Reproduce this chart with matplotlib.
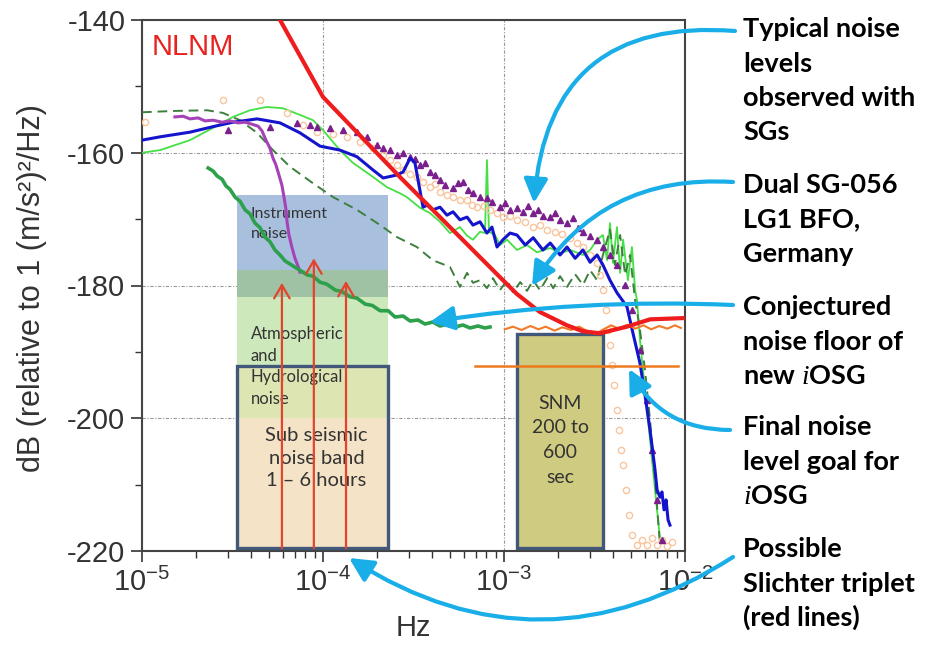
import matplotlib
matplotlib.use("Agg")
import matplotlib.pyplot as plt
from matplotlib.patches import Rectangle

# ---- values: frequency in Hz, level in dB ----
nlnm_f = [4.78e-5, 5.79e-5, 1.0e-4, 2.66e-4, 9.87e-4, 1.18e-3, 1.58e-3, 2.23e-3,
          2.73e-3, 3.39e-3, 4.78e-3, 6.41e-3, 1.0e-2]
nlnm_db = [-135.9, -140.0, -151.6, -163.65, -179.2, -181.3, -184.0, -186.0,
           -186.9, -187.2, -186.2, -185.1, -184.9]

blue_f = [1.0e-5, 1.26e-5, 1.84e-5, 2.53e-5, 3.18e-5, 4.32e-5, 5.79e-5, 7.46e-5,
          9.62e-5, 1.24e-4, 1.54e-4, 1.89e-4, 2.15e-4, 2.56e-4, 2.77e-4, 3.03e-4,
          3.22e-4, 3.35e-4, 3.57e-4, 3.76e-4, 4.05e-4, 4.43e-4, 4.84e-4, 5.23e-4,
          5.71e-4, 6.25e-4, 6.74e-4, 7.37e-4, 8.05e-4, 8.58e-4, 9.15e-4, 9.87e-4,
          1.08e-3, 1.18e-3, 1.31e-3, 1.45e-3, 1.64e-3, 1.80e-3, 2.04e-3, 2.23e-3,
          2.47e-3, 2.73e-3, 2.99e-3, 3.27e-3, 3.52e-3, 3.85e-3, 4.21e-3, 4.78e-3,
          5.16e-3, 5.64e-3, 6.01e-3, 6.41e-3, 6.83e-3, 7.01e-3, 7.28e-3, 7.46e-3,
          7.66e-3, 7.86e-3, 8.06e-3, 8.26e-3]
blue_db = [-158.1, -157.6, -156.9, -156.0, -155.4, -154.9, -155.5, -157.0,
           -159.0, -159.6, -160.6, -162.6, -163.8, -163.35, -162.9, -160.8,
           -161.5, -164.1, -168.2, -167.9, -168.6, -168.2, -169.4, -168.9,
           -170.1, -169.7, -170.9, -170.4, -172.1, -171.2, -174.2, -173.1,
           -172.1, -172.4, -173.9, -172.8, -174.65, -173.6, -175.4, -174.2,
           -175.9, -174.65, -176.5, -175.4, -176.9, -179.2, -181.1, -183.2,
           -187.2, -191.7, -196.5, -201.8, -207.8, -210.8, -211.9, -211.1,
           -213.8, -212.3, -215.3, -216.1]

lgreen_f = [1.0e-5, 1.26e-5, 1.84e-5, 2.53e-5, 3.18e-5, 3.95e-5, 4.90e-5, 6.01e-5,
            7.46e-5, 8.81e-5, 1.0e-4, 1.24e-4, 1.46e-4, 1.89e-4, 2.26e-4, 2.66e-4,
            2.91e-4, 3.44e-4, 3.90e-4, 4.43e-4, 5.03e-4, 5.71e-4, 6.25e-4, 6.74e-4,
            7.37e-4, 7.85e-4, 8.05e-4, 8.26e-4, 8.92e-4, 9.50e-4, 1.04e-3, 1.18e-3,
            1.34e-3, 1.52e-3, 1.80e-3, 2.04e-3, 2.32e-3, 2.73e-3, 2.99e-3, 3.27e-3,
            3.52e-3, 3.71e-3, 3.85e-3, 4.00e-3, 4.21e-3, 4.38e-3, 4.55e-3, 4.84e-3,
            5.09e-3, 5.30e-3, 5.43e-3, 5.64e-3, 6.01e-3, 6.41e-3, 6.83e-3, 7.28e-3]
lgreen_db = [-160.0, -159.6, -158.1, -156.1, -154.6, -153.6, -153.1, -153.3,
             -154.3, -155.1, -156.6, -159.6, -161.5, -163.65, -165.2, -166.1,
             -166.7, -168.3, -169.1, -170.4, -172.1, -171.2, -172.5, -173.1,
             -171.9, -172.1, -161.1, -171.9, -172.4, -173.9, -173.1, -174.65,
             -173.9, -175.0, -174.35, -175.1, -174.65, -175.4, -174.65, -173.1,
             -172.4, -176.2, -170.6, -176.6, -171.2, -178.1, -173.1, -179.2,
             -174.2, -180.7, -182.2, -188.2, -195.7, -203.3, -210.8, -218.3]

dgreen_f = [1.0e-5, 1.52e-5, 2.29e-5, 2.80e-5, 3.48e-5, 4.32e-5, 5.29e-5, 6.57e-5,
            8.81e-5, 1.14e-4, 1.54e-4, 2.07e-4, 2.56e-4, 3.30e-4, 4.05e-4, 5.03e-4,
            5.71e-4, 6.25e-4, 6.74e-4, 7.37e-4, 8.05e-4, 8.69e-4, 9.50e-4, 1.04e-3,
            1.12e-3, 1.23e-3, 1.34e-3, 1.45e-3, 1.58e-3, 1.73e-3, 1.87e-3, 2.04e-3,
            2.23e-3, 2.47e-3, 2.73e-3, 2.99e-3, 3.27e-3, 3.52e-3, 3.85e-3, 4.10e-3,
            4.38e-3, 4.67e-3, 4.97e-3, 5.30e-3, 5.64e-3, 6.01e-3, 6.41e-3, 6.83e-3,
            7.28e-3]
dgreen_db = [-153.9, -153.7, -153.6, -154.0, -155.1, -157.0, -159.6, -162.1,
             -164.6, -166.7, -168.6, -170.9, -172.7, -174.2, -176.2, -177.2,
             -180.2, -178.1, -179.6, -179.2, -180.4, -178.9, -180.7, -179.2,
             -181.0, -179.5, -180.8, -179.2, -180.7, -178.9, -180.4, -178.6,
             -180.2, -178.3, -179.9, -177.7, -179.2, -175.4, -171.6, -176.9,
             -172.4, -178.4, -175.4, -182.2, -186.7, -192.7, -200.3, -209.3,
             -219.1]

purple_f = [1.52e-5, 1.69e-5, 1.84e-5, 2.04e-5, 2.23e-5, 2.47e-5, 2.77e-5, 3.06e-5,
            3.39e-5, 3.71e-5, 4.05e-5, 4.38e-5, 4.60e-5, 4.84e-5, 5.09e-5, 5.29e-5,
            5.49e-5, 5.71e-5, 5.93e-5, 6.09e-5, 6.25e-5, 6.33e-5, 6.49e-5, 6.75e-5,
            7.00e-5, 7.28e-5, 7.46e-5]
purple_db = [-154.6, -154.5, -154.9, -154.75, -155.2, -155.1, -155.4, -155.2,
             -155.5, -155.4, -155.7, -156.0, -156.7, -158.1, -159.3, -160.8,
             -161.8, -163.35, -164.9, -166.7, -168.6, -170.4, -172.4, -174.35,
             -175.9, -177.1, -178.0]

# conjectured noise floor of the old SG (thick green) below the instrument band
floor_f = [2.32e-5, 2.47e-5, 2.60e-5, 2.77e-5, 2.91e-5, 3.06e-5, 3.27e-5, 3.48e-5,
           3.71e-5, 3.95e-5, 4.21e-5, 4.49e-5, 4.78e-5, 5.09e-5, 5.43e-5, 5.79e-5,
           6.17e-5, 7.46e-5, 8.17e-5, 8.81e-5, 9.62e-5, 1.05e-4, 1.17e-4, 1.27e-4,
           1.41e-4, 1.54e-4, 1.71e-4, 1.87e-4, 2.07e-4, 2.29e-4, 2.50e-4, 2.77e-4,
           3.03e-4, 3.35e-4, 3.66e-4, 4.05e-4, 4.43e-4, 4.91e-4, 5.36e-4, 5.93e-4,
           6.49e-4, 7.18e-4, 7.85e-4, 8.37e-4]
floor_db = [-162.3, -162.75, -163.5, -164.0, -165.0, -165.5, -166.7, -167.3,
            -168.6, -169.2, -170.6, -171.3, -172.7, -173.4, -174.65, -175.4,
            -176.3, -177.7, -178.4, -178.6, -179.5, -179.8, -180.7, -180.9,
            -181.7, -181.9, -182.8, -183.0, -183.8, -183.8, -184.75, -184.6,
            -185.35, -185.2, -185.8, -185.5, -186.1, -185.8, -186.25, -185.95,
            -186.4, -186.1, -186.4, -186.25]

tri_f = [2.99e-5, 5.09e-5, 7.18e-5, 8.48e-5, 9.27e-5, 1.09e-4, 1.29e-4, 1.54e-4,
         1.75e-4, 1.99e-4, 2.15e-4, 2.35e-4, 2.56e-4, 2.77e-4, 3.03e-4, 3.22e-4,
         3.44e-4, 3.66e-4, 3.90e-4, 4.16e-4, 4.43e-4, 4.72e-4, 5.23e-4, 5.57e-4,
         5.93e-4, 6.33e-4, 6.74e-4, 7.37e-4, 8.05e-4, 8.58e-4, 9.50e-4, 1.01e-3,
         1.08e-3, 1.18e-3, 1.27e-3, 1.36e-3, 1.45e-3, 1.54e-3, 1.64e-3, 1.80e-3,
         1.91e-3, 2.04e-3, 2.23e-3, 2.40e-3, 2.56e-3, 2.73e-3, 2.99e-3, 3.27e-3,
         3.52e-3, 3.85e-3, 4.21e-3, 4.67e-3, 5.09e-3, 5.64e-3, 6.17e-3, 6.57e-3,
         7.01e-3, 7.46e-3]
tri_db = [-156.6, -156.1, -155.5, -155.8, -156.1, -156.3, -156.6, -156.9,
          -157.6, -158.8, -159.3, -159.6, -160.3, -160.0, -160.6, -160.9,
          -161.8, -161.5, -162.9, -163.35, -164.1, -164.9, -165.3, -164.6,
          -164.4, -165.6, -166.1, -166.7, -166.8, -167.4, -168.2, -167.6,
          -168.6, -168.3, -168.9, -168.0, -169.1, -168.6, -169.5, -169.7,
          -169.1, -170.1, -170.6, -169.8, -171.3, -171.9, -172.5, -173.1,
          -174.2, -175.4, -176.9, -179.9, -183.7, -189.7, -197.25, -204.8,
          -212.3, -218.3]

circ_f = [1.04e-5, 2.80e-5, 4.49e-5, 6.33e-5, 7.76e-5, 9.27e-5, 1.14e-4, 1.36e-4,
          1.60e-4, 1.89e-4, 2.15e-4, 2.35e-4, 2.56e-4, 2.77e-4, 3.03e-4, 3.30e-4,
          3.57e-4, 3.90e-4, 4.16e-4, 4.43e-4, 4.84e-4, 5.23e-4, 5.71e-4, 6.25e-4,
          6.66e-4, 7.09e-4, 7.75e-4, 8.37e-4, 9.15e-4, 9.87e-4, 1.08e-3, 1.18e-3,
          1.31e-3, 1.45e-3, 1.58e-3, 1.73e-3, 1.91e-3, 2.09e-3, 2.32e-3, 2.53e-3,
          2.73e-3, 2.99e-3, 3.27e-3, 3.39e-3, 3.52e-3, 3.66e-3, 3.76e-3, 3.85e-3,
          3.95e-3, 4.05e-3, 4.21e-3, 4.32e-3, 4.43e-3, 4.55e-3, 4.72e-3, 4.91e-3,
          5.09e-3, 5.43e-3, 5.78e-3, 6.17e-3, 6.57e-3, 7.01e-3, 7.46e-3, 7.96e-3,
          8.48e-3]
circ_db = [-155.4, -152.05, -152.05, -154.0, -155.8, -156.9, -157.2, -157.6,
           -158.4, -159.3, -160.3, -161.1, -161.8, -162.6, -163.2, -163.65,
           -164.4, -165.2, -164.7, -165.9, -166.4, -166.7, -167.1, -167.1,
           -167.9, -168.2, -168.0, -168.6, -169.1, -169.7, -169.5, -170.1,
           -170.4, -171.2, -170.9, -171.6, -171.9, -172.2, -172.8, -173.6,
           -174.2, -175.4, -176.6, -178.4, -180.7, -183.7, -186.7, -189.0,
           -192.0, -195.0, -198.8, -201.8, -204.8, -207.0, -210.8, -214.6,
           -217.6, -219.1, -218.3, -219.1, -218.0, -219.1, -218.3, -219.25,
           -218.6]

iosg_f = [1.01e-3, 1.12e-3, 1.25e-3, 1.40e-3, 1.55e-3, 1.70e-3, 1.90e-3, 2.10e-3,
          2.35e-3, 2.60e-3, 2.90e-3, 3.20e-3, 3.55e-3, 3.90e-3, 4.30e-3, 4.80e-3,
          5.30e-3, 5.90e-3, 6.50e-3, 7.20e-3, 8.00e-3, 8.80e-3, 9.50e-3]
iosg_db = [-186.6, -186.2, -186.7, -186.1, -186.6, -186.2, -186.8, -186.3,
           -186.7, -186.2, -186.9, -187.3, -186.6, -186.0, -186.5, -185.9,
           -186.5, -186.0, -186.6, -186.1, -186.5, -186.0, -186.4]

goal_f = [6.92e-4, 9.15e-3]
goal_db = [-192.1, -192.1]

# Slichter triplet arrows: frequency and top of the arrow
slichter_f = [5.93e-5, 8.9e-5, 1.34e-4]
slichter_top = [-179.6, -175.9, -179.3]

# shaded bands (Hz, dB)
band_f = (3.35e-5, 2.29e-4)
instr_db = (-181.7, -166.4)
atmo_db = (-200.0, -177.7)
subseis_db = (-219.6, -192.1)
snm_f = (1.18e-3, 3.52e-3)
snm_db = (-219.6, -187.3)

plt.rcParams['font.family'] = ['Liberation Sans', 'DejaVu Sans']
plt.rcParams['axes.unicode_minus'] = False
plt.rcParams['mathtext.fontset'] = 'custom'
plt.rcParams['mathtext.rm'] = 'Liberation Sans'
plt.rcParams['mathtext.it'] = 'Liberation Serif:italic'

W, H = 935, 647
fig = plt.figure(figsize=(W / 100, H / 100), dpi=100)
ax = fig.add_axes([142 / W, 1 - 551 / H, 543 / W, 531 / H])
ax.set_xscale('log')
ax.set_xlim(1e-5, 1e-2)
ax.set_ylim(-220, -140)


def band(f0f1, d0d1, color, z=1, edge=None):
    r = Rectangle((f0f1[0], d0d1[0]), f0f1[1] - f0f1[0], d0d1[1] - d0d1[0],
                  facecolor=color, edgecolor=edge or 'none',
                  lw=2.4 if edge else 0, zorder=z)
    ax.add_patch(r)


# colour strips where the bands overlap
band(band_f, (instr_db[0], instr_db[1]), '#a8c0de')
band(band_f, (atmo_db[0], atmo_db[1]), '#cde8bb')
band(band_f, (atmo_db[1], instr_db[0]), '#9fc2a5', z=1.1)
band(band_f, subseis_db, '#f4e3c6', z=1.05)
band(band_f, (subseis_db[1], atmo_db[0]), '#dde6b3', z=1.1)
band(band_f, subseis_db, 'none', z=6, edge='#41587a')
band(snm_f, snm_db, '#cfcb80', z=1.2, edge='#41587a')

ax.plot(lgreen_f, lgreen_db, color='#44e044', lw=1.3, zorder=3)
ax.plot(dgreen_f, dgreen_db, color='#3d7f3d', lw=1.4, ls=(0, (5, 3)), zorder=3)
ax.plot(circ_f, circ_db, ls='none', marker='o', ms=4.5, mfc='none',
        mec='#f8c59c', mew=1.0, zorder=3)
ax.plot(tri_f, tri_db, ls='none', marker='^', ms=4, color='#7a1f8c', zorder=3.5)
ax.plot(blue_f, blue_db, color='#1414cc', lw=2.2, zorder=4)
ax.plot(purple_f, purple_db, color='#a542b8', lw=2.2, zorder=4)
ax.plot(floor_f, floor_db, color='#2ca04a', lw=2.6, zorder=4)
ax.plot(iosg_f, iosg_db, color='#f07a28', lw=1.5, zorder=4)
ax.plot(goal_f, goal_db, color='#ee7a1e', lw=1.8, zorder=4)
ax.plot(nlnm_f, nlnm_db, color='#ee1c1c', lw=3.0, zorder=5)

for f, top in zip(slichter_f, slichter_top):
    ax.annotate('', xy=(f, top), xytext=(f, subseis_db[0]),
                arrowprops=dict(arrowstyle='->,head_length=0.6,head_width=0.35',
                                color='#e2452b', lw=1.6, mutation_scale=16,
                                shrinkA=0, shrinkB=0), zorder=7)

# axes styling
for s in ax.spines.values():
    s.set_color('#444444')
    s.set_linewidth(1.5)
ax.set_yticks([-140, -160, -180, -200, -220])
ax.set_yticks([-150, -170, -190, -210], minor=True)
ax.tick_params(which='major', direction='out', length=8, width=1.2,
               labelsize=21, colors='#333333', pad=4)
ax.tick_params(which='minor', direction='out', length=5, width=1.0,
               colors='#333333')
ax.grid(True, which='major', color='#999999', lw=0.8, ls=(0, (3, 1.5, 1, 1.5)),
        zorder=0)
ax.set_axisbelow(True)

ax.text(0.018, 0.975, 'NLNM', transform=ax.transAxes, ha='left', va='top',
        color='#e8231f', fontsize=21)

box_font = dict(family=['Lato', 'DejaVu Sans'], color='#333333')
ax.text(4.0e-5, -170.7, 'Instrument\nnoise', ha='left', va='center',
        fontsize=11.5, linespacing=1.5, **box_font)
ax.text(4.0e-5, -192.2, 'Atmospheric\nand\nHydrological\nnoise', ha='left',
        va='center', fontsize=12, linespacing=1.45, **box_font)
ax.text(9.2e-5, -206.0, 'Sub seismic\nnoise band\n1 – 6 hours', ha='center',
        va='center', fontsize=14.5, linespacing=1.42, **box_font)
ax.text(2.05e-3, -203.3, 'SNM\n200 to\n600\nsec', ha='center', va='center',
        fontsize=14, linespacing=1.55, **box_font)

fig.text(32 / W, 1 - 288 / H, 'dB (relative to 1 (m/s²)²/Hz)', rotation=90,
         ha='center', va='center', fontsize=22, color='#333333')
fig.text(413 / W, 1 - 628 / H, 'Hz', ha='center', va='center', fontsize=21,
         color='#333333')

# right-hand notes, one line at a time
notes = [
    (37, ['Typical noise', 'levels', 'observed with', 'SGs']),
    (193, ['Dual SG-056', 'LG1 BFO,', 'Germany']),
    (315, ['Conjectured', 'noise floor of', r'new $\mathit{i}$OSG']),
    (435, ['Final noise', 'level goal for', r'$\mathit{i}$OSG']),
    (557, ['Possible', 'Slichter triplet', '(red lines)']),
]
for base, lines in notes:
    for i, line in enumerate(lines):
        fig.text(743 / W, 1 - (base + i * 34.5) / H, line, ha='left',
                 va='baseline', fontsize=19.5, fontweight='bold',
                 family=['Lato', 'DejaVu Sans'], color='black')

# blue call-out arrows (figure pixels, origin bottom left)
callouts = [
    ((735, 616), (534, 444), 0.5),
    ((733, 465), (532, 361), 0.3),
    ((733, 342), (430, 325), 0.05),
    ((730, 217), (629, 278), -0.3),
    ((733, 90), (349, 89), -0.32),
]
for start, tip, rad in callouts:
    ax.annotate('', xy=tip, xytext=start, xycoords='figure pixels',
                textcoords='figure pixels', annotation_clip=False,
                arrowprops=dict(arrowstyle='-|>,head_length=0.8,head_width=0.4',
                                connectionstyle=f'arc3,rad={rad}',
                                color='#19aee8', lw=3, mutation_scale=18,
                                shrinkA=0, shrinkB=0), zorder=10)

fig.savefig('out.png', dpi=100)
